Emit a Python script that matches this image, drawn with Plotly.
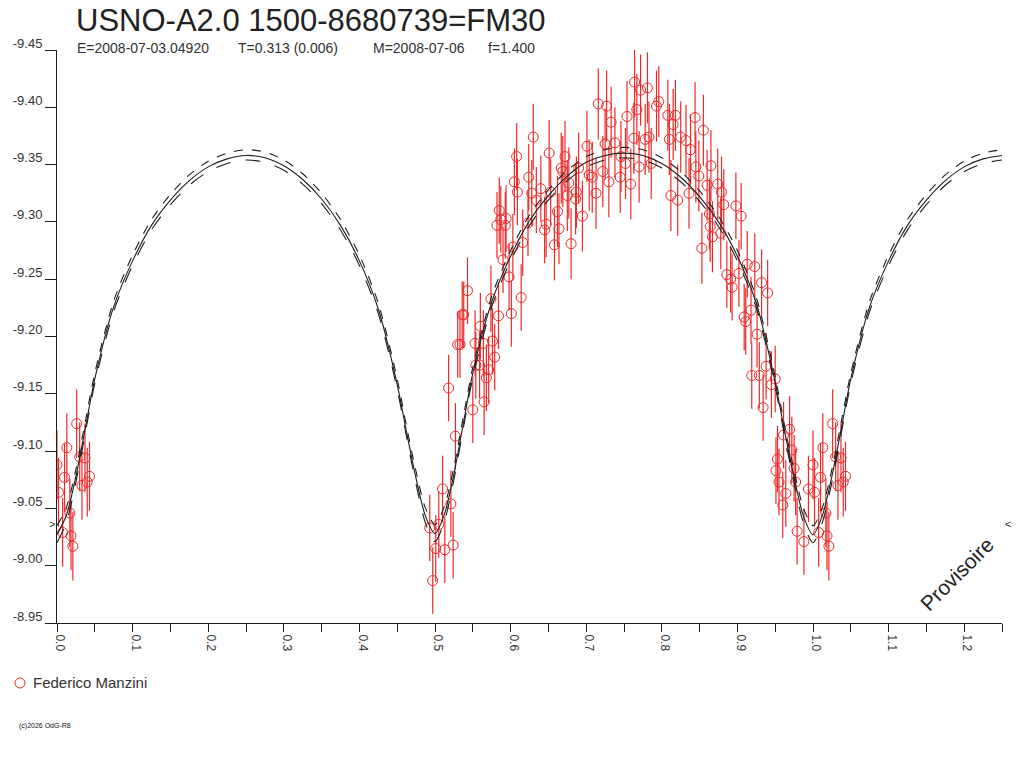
import plotly.graph_objects as go

# ---------------- text ----------------
title_text = "USNO-A2.0 1500-8680739=FM30"
info_texts = ["E=2008-07-03.04920", "T=0.313 (0.006)", "M=2008-07-06", "f=1.400"]
observer = "Federico Manzini"
watermark = "Provisoire"
copyright_text = "(c)2026 OdG-R8"

# ---------------- ticks ----------------
x_tickvals = [0.0, 0.1, 0.2, 0.3, 0.4, 0.5, 0.6, 0.7, 0.8, 0.9, 1.0, 1.1, 1.2]
x_ticktext = ["0.0", "0.1", "0.2", "0.3", "0.4", "0.5", "0.6", "0.7", "0.8", "0.9", "1.0", "1.1", "1.2"]
y_tickvals = [-9.45, -9.40, -9.35, -9.30, -9.25, -9.20, -9.15, -9.10, -9.05, -9.00, -8.95]
y_ticktext = ["-9.45", "-9.40", "-9.35", "-9.30", "-9.25", "-9.20", "-9.15", "-9.10", "-9.05", "-9.00", "-8.95"]

# ---------------- observations (phase, magnitude, error) ----------------
phase_obs = [
    0.000, 0.002, 0.0075, 0.010, 0.013, 0.017, 0.0185, 0.021, 0.026, 0.030,
    0.033, 0.037, 0.040, 0.043,
    0.493, 0.497, 0.501, 0.505, 0.510, 0.513, 0.518, 0.521, 0.524, 0.527,
    0.530, 0.533, 0.536, 0.538, 0.543, 0.550, 0.553, 0.554, 0.559, 0.560,
    0.564, 0.565, 0.568, 0.571, 0.574, 0.576, 0.579, 0.582, 0.584, 0.585,
    0.587, 0.590, 0.593, 0.594, 0.598, 0.601, 0.603, 0.605, 0.608, 0.609,
    0.614, 0.616, 0.623, 0.624, 0.628, 0.630, 0.634, 0.640, 0.645, 0.647,
    0.651, 0.653,
    0.658, 0.662, 0.664, 0.667, 0.669, 0.672, 0.675, 0.677, 0.680, 0.686,
    0.687, 0.690, 0.695, 0.701, 0.704, 0.708, 0.713, 0.716, 0.722, 0.725,
    0.727, 0.730, 0.733, 0.738, 0.745, 0.746, 0.752, 0.754, 0.759, 0.763,
    0.764, 0.767, 0.770, 0.772, 0.778, 0.781, 0.783, 0.786, 0.793, 0.796,
    0.808, 0.810, 0.812, 0.815, 0.818, 0.821, 0.825, 0.832, 0.836, 0.838,
    0.844, 0.845, 0.849, 0.853, 0.855, 0.860, 0.863, 0.864, 0.865, 0.867,
    0.874, 0.878, 0.879, 0.882,
    0.886, 0.891, 0.893, 0.898, 0.902, 0.905, 0.909, 0.911, 0.913, 0.918,
    0.919, 0.923, 0.926, 0.929, 0.932, 0.934, 0.938, 0.940, 0.945, 0.950,
    0.951, 0.953, 0.955, 0.960, 0.961, 0.964, 0.969, 0.972, 0.975, 0.977,
    0.979, 0.988, 0.994,
]
mag_obs = [
    -9.088, -9.064, -9.029, -9.077, -9.103, -9.046, -9.026, -9.017, -9.124, -9.095,
    -9.070, -9.094, -9.073, -9.078,
    -9.033, -8.987, -9.015, -9.036, -9.067, -9.014, -9.155, -9.054, -9.018, -9.113,
    -9.193, -9.193, -9.219, -9.219, -9.240, -9.136, -9.194, -9.175, -9.175, -9.209,
    -9.194, -9.143, -9.164, -9.171, -9.233, -9.196, -9.182, -9.297, -9.218, -9.310,
    -9.302, -9.267, -9.297, -9.303, -9.252, -9.220, -9.278, -9.335, -9.357, -9.326,
    -9.234, -9.282, -9.299, -9.339, -9.325, -9.374, -9.319, -9.329, -9.293, -9.298,
    -9.360, -9.326,
    -9.280, -9.309, -9.294, -9.347, -9.344, -9.357, -9.323, -9.334, -9.281, -9.320,
    -9.326, -9.347, -9.305, -9.366, -9.341, -9.339, -9.325, -9.403, -9.344, -9.368,
    -9.401, -9.335, -9.387, -9.369, -9.339, -9.357, -9.351, -9.392, -9.333, -9.373,
    -9.422, -9.398, -9.348, -9.415, -9.372, -9.417, -9.374, -9.351, -9.401, -9.405,
    -9.393, -9.372, -9.323, -9.385, -9.393, -9.319, -9.374, -9.371, -9.325, -9.363,
    -9.391, -9.348, -9.340, -9.277, -9.380, -9.332, -9.307, -9.296, -9.349, -9.287,
    -9.333, -9.290, -9.326, -9.315,
    -9.254, -9.250, -9.243, -9.314, -9.255, -9.305, -9.217, -9.213, -9.263, -9.223,
    -9.166, -9.261, -9.202, -9.166, -9.247, -9.138, -9.174, -9.238, -9.158, -9.163,
    -9.083, -9.093, -9.073, -9.053, -9.114, -9.063, -9.119, -9.101, -9.085, -9.073,
    -9.030, -9.021, -9.067,
]
err_obs = [
    0.030, 0.030, 0.030, 0.030, 0.030, 0.030, 0.030, 0.030, 0.030, 0.030,
    0.030, 0.030, 0.030, 0.030,
    0.029, 0.029, 0.029, 0.029, 0.029, 0.029, 0.029, 0.029, 0.029, 0.029,
    0.029, 0.029, 0.029, 0.029, 0.029, 0.029, 0.029, 0.029, 0.029, 0.029,
    0.029, 0.029, 0.029, 0.029, 0.029, 0.029, 0.029, 0.029, 0.029, 0.029,
    0.029, 0.029, 0.029, 0.029, 0.029, 0.029, 0.029, 0.029, 0.029, 0.029,
    0.029, 0.029, 0.029, 0.029, 0.029, 0.029, 0.029, 0.029, 0.029, 0.029,
    0.029, 0.029,
    0.031, 0.031, 0.031, 0.031, 0.031, 0.031, 0.031, 0.031, 0.031, 0.031,
    0.031, 0.031, 0.031, 0.031, 0.031, 0.031, 0.031, 0.031, 0.031, 0.031,
    0.031, 0.031, 0.031, 0.031, 0.031, 0.031, 0.031, 0.031, 0.031, 0.031,
    0.031, 0.031, 0.031, 0.031, 0.031, 0.031, 0.031, 0.031, 0.031, 0.031,
    0.031, 0.031, 0.031, 0.031, 0.031, 0.031, 0.031, 0.031, 0.031, 0.031,
    0.031, 0.031, 0.031, 0.031, 0.031, 0.031, 0.031, 0.031, 0.031, 0.031,
    0.031, 0.031, 0.031, 0.031,
    0.029, 0.029, 0.029, 0.029, 0.029, 0.029, 0.029, 0.029, 0.029, 0.029,
    0.029, 0.029, 0.029, 0.029, 0.029, 0.029, 0.029, 0.029, 0.029, 0.029,
    0.029, 0.029, 0.029, 0.029, 0.029, 0.029, 0.029, 0.029, 0.029, 0.029,
    0.029, 0.029, 0.029,
]

# ---------------- model light curves ----------------
model_phase = [
    0.0, 0.0125, 0.025, 0.0375, 0.05, 0.075, 0.1, 0.125, 0.15, 0.175,
    0.2, 0.225, 0.25, 0.275, 0.3, 0.325, 0.35, 0.375, 0.4, 0.425,
    0.45, 0.4625, 0.475, 0.4875, 0.5, 0.5125, 0.525, 0.5375, 0.55, 0.575,
    0.6, 0.625, 0.65, 0.675, 0.7, 0.725, 0.75, 0.775, 0.8, 0.825,
    0.85, 0.875, 0.9, 0.925, 0.95, 0.9625, 0.975, 0.9875, 1.0, 1.0125,
    1.025, 1.0375, 1.05, 1.075, 1.1, 1.125, 1.15, 1.175, 1.2, 1.225, 1.25,
]
model_a = [
    -9.035, -9.051, -9.084, -9.126, -9.168, -9.231, -9.271, -9.302, -9.324, -9.341,
    -9.353, -9.360, -9.363, -9.361, -9.354, -9.342, -9.325, -9.302, -9.271, -9.229,
    -9.163, -9.121, -9.082, -9.050, -9.036, -9.052, -9.086, -9.130, -9.173, -9.235,
    -9.275, -9.306, -9.328, -9.345, -9.357, -9.363, -9.365, -9.363, -9.356, -9.344,
    -9.327, -9.305, -9.275, -9.234, -9.165, -9.122, -9.083, -9.050, -9.035, -9.051,
    -9.084, -9.126, -9.168, -9.231, -9.271, -9.302, -9.324, -9.341, -9.353, -9.360, -9.363,
]
model_b = [
    -9.027, -9.044, -9.078, -9.120, -9.163, -9.226, -9.266, -9.297, -9.319, -9.336,
    -9.348, -9.355, -9.358, -9.356, -9.349, -9.337, -9.320, -9.297, -9.266, -9.224,
    -9.158, -9.116, -9.076, -9.043, -9.028, -9.045, -9.080, -9.124, -9.168, -9.230,
    -9.270, -9.301, -9.323, -9.340, -9.352, -9.358, -9.360, -9.358, -9.351, -9.339,
    -9.322, -9.300, -9.270, -9.229, -9.160, -9.117, -9.077, -9.043, -9.027, -9.044,
    -9.078, -9.120, -9.163, -9.226, -9.266, -9.297, -9.319, -9.336, -9.348, -9.355, -9.358,
]
model_c = [
    -9.020, -9.038, -9.073, -9.116, -9.159, -9.222, -9.262, -9.293, -9.315, -9.332,
    -9.344, -9.351, -9.354, -9.352, -9.345, -9.333, -9.316, -9.293, -9.262, -9.220,
    -9.154, -9.112, -9.071, -9.037, -9.021, -9.039, -9.075, -9.120, -9.164, -9.226,
    -9.266, -9.297, -9.319, -9.336, -9.348, -9.354, -9.356, -9.354, -9.347, -9.335,
    -9.318, -9.296, -9.266, -9.225, -9.156, -9.113, -9.072, -9.037, -9.020, -9.038,
    -9.073, -9.116, -9.159, -9.222, -9.262, -9.293, -9.315, -9.332, -9.344, -9.351, -9.354,
]

# observations at the start of the cycle are shown again after phase 1
plot_phase = list(phase_obs) + [p + 1.0 for p in phase_obs if p < 0.05]
plot_mag = list(mag_obs) + [m for p, m in zip(phase_obs, mag_obs) if p < 0.05]
plot_err = list(err_obs) + [e for p, e in zip(phase_obs, err_obs) if p < 0.05]

# ---------------- layout geometry ----------------
W, H = 1024, 768
ML, MR, MT, MB = 57, 22, 50, 145
PW, PH = W - ML - MR, H - MT - MB


def px(x):
    return (x - ML) / PW


def py(y):
    return (H - MB - y) / PH


RED = "#f02828"
INK = "#1e1e1e"
FONT = "Liberation Sans"

fig = go.Figure()

fig.add_trace(go.Scatter(
    x=plot_phase, y=plot_mag, mode="markers", name=observer,
    marker=dict(symbol="circle-open", size=10, color=RED, line=dict(width=1, color=RED)),
    error_y=dict(type="data", array=plot_err, color=RED, thickness=1.2, width=0),
    showlegend=False,
))

for vals, dash in [(model_c, "longdash"), (model_b, "solid"), (model_a, "dash")]:
    fig.add_trace(go.Scatter(
        x=model_phase, y=vals, mode="lines",
        line=dict(color=INK, width=1.1, dash=dash, shape="spline", smoothing=0.8),
        showlegend=False, hoverinfo="skip",
    ))

annotations = [
    dict(text=title_text, x=px(74), y=py(20), xanchor="left", yanchor="middle",
         font=dict(size=31, color="#222222", family=FONT)),
    dict(text=observer, x=px(31), y=py(683), xanchor="left", yanchor="middle",
         font=dict(size=15, color="#333333", family=FONT)),
    dict(text=copyright_text, x=px(17), y=py(726), xanchor="left", yanchor="middle",
         font=dict(size=7, color="#111111", family=FONT)),
    dict(text=watermark, x=px(956), y=py(574), xanchor="center", yanchor="middle",
         textangle=-45, font=dict(size=21, color="#222222", family=FONT)),
    dict(text=">", x=px(52), y=py(524), xanchor="center", yanchor="middle",
         font=dict(size=11, color="#333333", family=FONT)),
    dict(text="<", x=px(1008), y=py(524), xanchor="center", yanchor="middle",
         font=dict(size=11, color="#333333", family=FONT)),
]
for txt, xpos in zip(info_texts, [75, 236, 371, 486]):
    annotations.append(dict(text=txt, x=px(xpos), y=py(48), xanchor="left", yanchor="middle",
                            font=dict(size=14, color="#333333", family=FONT)))
for a in annotations:
    a.update(xref="paper", yref="paper", showarrow=False)

fig.update_layout(
    width=W, height=H,
    margin=dict(l=ML, r=MR, t=MT, b=MB),
    paper_bgcolor="white", plot_bgcolor="white",
    showlegend=False,
    font=dict(family=FONT, color="#333333"),
    annotations=annotations,
    shapes=[dict(type="circle", xref="paper", yref="paper",
                 xsizemode="pixel", ysizemode="pixel",
                 xanchor=px(20), yanchor=py(683), x0=-5, x1=5, y0=-5, y1=5,
                 line=dict(color=RED, width=1))],
    xaxis=dict(range=[0.0, 1.25], tickvals=x_tickvals, ticktext=x_ticktext,
               tickangle=90, ticks="outside", ticklen=8, tickcolor=INK, ticklabelshift=3,
               showline=True, linecolor=INK, linewidth=1, showgrid=False, zeroline=False,
               tickfont=dict(size=12, color="#333333", family=FONT),
               minor=dict(dtick=0.05, tick0=0.0, ticks="outside", ticklen=8, tickcolor=INK)),
    yaxis=dict(range=[-8.95, -9.45], tickvals=y_tickvals, ticktext=y_ticktext,
               ticks="outside", ticklen=11, tickcolor=INK, ticklabelshift=7,
               ticklabelstandoff=0,
               showline=True, linecolor=INK, linewidth=1, showgrid=False, zeroline=False,
               tickfont=dict(size=13, color="#333333", family=FONT)),
)

fig.write_html("out.html", config={"displayModeBar": False},
               post_script="document.body.style.margin='0';")
